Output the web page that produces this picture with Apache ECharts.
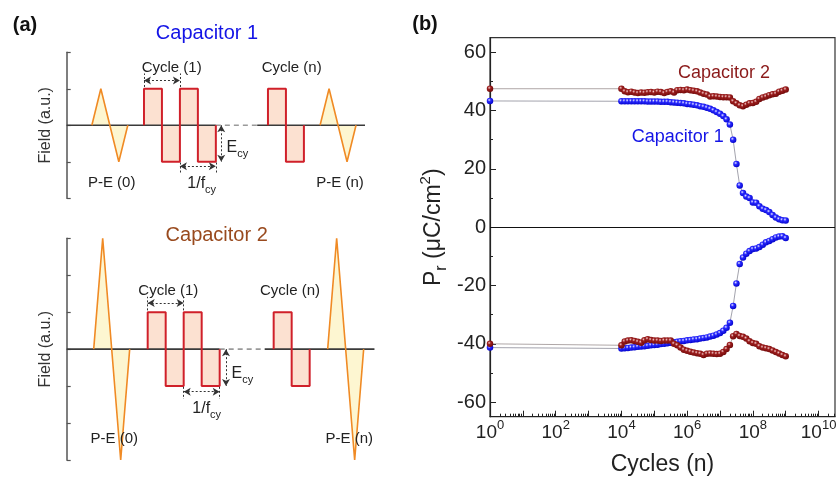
<!DOCTYPE html>
<html><head><meta charset="utf-8">
<script src="https://cdn.jsdelivr.net/npm/echarts@6/dist/echarts.min.js"></script>
<style>html,body{margin:0;padding:0;background:#fff}#c{width:836px;height:479px}</style>
</head><body><div id="c"></div><script>
// ================= Panel (b) data =================
const cycles = [1,
  1e4, 1.26e4, 1.58e4, 2e4, 2.51e4, 3.16e4, 3.98e4, 5.01e4, 6.31e4, 7.94e4,
  1e5, 1.26e5, 1.58e5, 2e5, 2.51e5, 3.16e5, 3.98e5, 5.01e5, 6.31e5, 7.94e5,
  1e6, 1.26e6, 1.58e6, 2e6, 2.51e6, 3.16e6, 3.98e6, 5.01e6, 6.31e6, 7.94e6,
  1e7, 1.26e7, 1.58e7, 2e7, 2.51e7, 3.16e7, 3.98e7, 5.01e7, 6.31e7, 7.94e7,
  1e8, 1.26e8, 1.58e8, 2e8, 2.51e8, 3.16e8, 3.98e8, 5.01e8, 6.31e8, 7.94e8,
  1e9];
const cap1Pos = [43.3,
  43.2,43.2,43.2,43.2,43.2,43.2,43.2,43.2,43.1,43.1,
  43.1,43.1,43.0,43.0,43.0,42.9,42.8,42.7,42.6,42.5,
  42.3,42.2,42.0,41.8,41.5,41.3,41.0,40.6,40.1,39.5,
  38.9,38.1,37.0,35.2,30.0,21.7,14.3,11.7,10.5,10.0,
  8.5,8.4,7.2,6.3,5.9,5.2,4.2,3.3,2.7,2.4,2.3];
const cap2Pos = [47.5,
  47.5,46.6,46.3,46.5,46.2,46.0,46.2,46.1,46.3,46.4,
  46.2,46.5,46.4,46.0,46.4,46.6,46.2,47.0,47.1,47.0,
  47.2,47.0,46.8,46.6,46.2,45.8,45.5,44.8,44.9,44.8,
  44.7,44.6,44.6,44.5,43.2,42.5,41.8,41.5,42.0,42.5,
  42.6,43.0,44.0,44.5,44.8,45.3,45.6,45.8,46.5,46.8,47.2];
const cap1Neg = [-41.3,
  -41.6,-41.5,-41.4,-41.3,-41.2,-41.0,-40.9,-40.8,-40.7,-40.5,
  -40.4,-40.3,-40.1,-40.0,-39.8,-39.6,-39.5,-39.3,-39.1,-39.0,
  -38.8,-38.7,-38.5,-38.4,-38.2,-38.0,-37.8,-37.5,-37.2,-36.8,
  -36.3,-35.5,-34.5,-32.8,-27.0,-19.3,-12.6,-10.4,-9.1,-8.2,
  -7.5,-7.3,-6.8,-6.0,-5.2,-4.7,-4.1,-3.5,-3.2,-3.1,-3.7];
const cap2Neg = [-40.0,
  -40.5,-39.2,-38.9,-38.8,-39.0,-39.3,-39.6,-38.8,-38.4,-38.7,
  -38.9,-38.9,-39.0,-38.9,-38.9,-38.9,-40.0,-40.5,-41.3,-42.0,
  -42.4,-42.7,-43.0,-43.2,-43.4,-43.8,-43.4,-43.3,-43.4,-43.5,
  -43.4,-42.8,-41.8,-40.4,-37.4,-36.6,-37.3,-37.6,-38.2,-39.1,
  -39.7,-40.0,-40.8,-41.3,-41.5,-41.8,-42.3,-42.8,-43.3,-43.8,-44.3];
const xDecadeTicks = [0,1,2,3,4,5,6,7,8,9,10];   // exponents of 10
const xLabelExps = [0,2,4,6,8,10];
const yTickValues = [-60,-40,-20,0,20,40,60];
const yMinorTicks = [-50,-30,-10,10,30,50];

// ================= Panel (a) waveforms (time units, field a.u.) =================
const cap1Tri0 = [[1.4,0],[1.9,1],[2.9,-1],[3.4,0]];
const cap1Sq1 = [[4.3,0],[4.3,1],[5.3,1],[5.3,-1],[6.3,-1],[6.3,1],[7.3,1],[7.3,-1],[8.3,-1],[8.3,0]];
const cap1SqN = [[11.2,0],[11.2,1],[12.2,1],[12.2,-1],[13.2,-1],[13.2,0]];
const cap1TriN = [[14.1,0],[14.6,1],[15.6,-1],[16.1,0]];
const cap1Base = [[[0,0],[8.3,0]],[[10.6,0],[16.6,0]]];
const cap1Dash = [[8.3,0],[10.6,0]];

const cap2Tri0 = [[1.5,0],[2,3],[3,-3],[3.5,0]];
const cap2Sq1 = [[4.5,0],[4.5,1],[5.5,1],[5.5,-1],[6.5,-1],[6.5,1],[7.5,1],[7.5,-1],[8.5,-1],[8.5,0]];
const cap2SqN = [[11.5,0],[11.5,1],[12.5,1],[12.5,-1],[13.5,-1],[13.5,0]];
const cap2TriN = [[14.5,0],[15,3],[16,-3],[16.5,0]];
const cap2Base = [[[0,0],[8.5,0]],[[11,0],[17.1,0]]];
const cap2Dash = [[8.5,0],[11,0]];

// ================= build =================
const FONT = 'Liberation Sans, Arial, sans-serif';
const chart = echarts.init(document.getElementById('c'), null, {renderer:'canvas'});

const SQ_LINE = '#d0202a', SQ_FILL = 'rgba(244,160,110,0.45)';
const TR_LINE = '#f08a24', TR_FILL = 'rgba(250,228,110,0.45)';

function baseSeries(gi, data, dashed){
  return {type:'line', xAxisIndex:gi, yAxisIndex:gi, data:data, symbol:'none', silent:true, animation:false,
    lineStyle:{color: dashed?'#9a9a9a':'#3a3a3a', width:1.6, type: dashed?[5,4]:'solid'}};
}
function waveSeries(gi, data, line, fill, w){
  return {type:'line', xAxisIndex:gi, yAxisIndex:gi, data:data, symbol:'none', silent:true, animation:false,
    lineStyle:{color:line, width:w}, areaStyle:{color:fill, origin:0}};
}
function annotSeries(gi, arrows, plain){
  const dot = {color:'#333', width:1, type:[2,2]};
  return [
    {type:'line', xAxisIndex:gi, yAxisIndex:gi, data:[], silent:true, animation:false,
      markLine:{silent:true, symbol:['arrow','arrow'], symbolSize:[6,7], label:{show:false}, lineStyle:dot, animation:false,
        data: arrows.map(a=>[{coord:a[0]},{coord:a[1]}])}},
    {type:'line', xAxisIndex:gi, yAxisIndex:gi, data:[], silent:true, animation:false,
      markLine:{silent:true, symbol:['none','none'], label:{show:false}, lineStyle:dot, animation:false,
        data: plain.map(a=>[{coord:a[0]},{coord:a[1]}])}}
  ];
}

const series = [];
// panel a1
cap1Base.forEach(s=>series.push(baseSeries(0,s,false)));
series.push(baseSeries(0,cap1Dash,true));
series.push(waveSeries(0,cap1Tri0,TR_LINE,TR_FILL,1.6));
series.push(waveSeries(0,cap1Sq1,SQ_LINE,SQ_FILL,2));
series.push(waveSeries(0,cap1SqN,SQ_LINE,SQ_FILL,2));
series.push(waveSeries(0,cap1TriN,TR_LINE,TR_FILL,1.6));
series.push(...annotSeries(0,
  [[[4.3,1.23],[6.3,1.23]], [[6.3,-1.12],[8.3,-1.12]], [[8.6,0],[8.6,-1]]],
  [[[4.3,1.05],[4.3,1.42]], [[6.3,1.05],[6.3,1.42]], [[6.3,-1.02],[6.3,-1.32]], [[8.3,-1.02],[8.3,-1.32]]]));
// panel a2
cap2Base.forEach(s=>series.push(baseSeries(1,s,false)));
series.push(baseSeries(1,cap2Dash,true));
series.push(waveSeries(1,cap2Tri0,TR_LINE,TR_FILL,1.6));
series.push(waveSeries(1,cap2Sq1,SQ_LINE,SQ_FILL,2));
series.push(waveSeries(1,cap2SqN,SQ_LINE,SQ_FILL,2));
series.push(waveSeries(1,cap2TriN,TR_LINE,TR_FILL,1.6));
series.push(...annotSeries(1,
  [[[4.5,1.25],[6.5,1.25]], [[6.5,-1.15],[8.5,-1.15]], [[8.85,0],[8.85,-1]]],
  [[[4.5,1.05],[4.5,1.42]], [[6.5,1.05],[6.5,1.42]], [[6.5,-1.02],[6.5,-1.35]], [[8.5,-1.02],[8.5,-1.35]]]));

// panel b
function ball(c1, c2, c3){
  return {type:'radial', x:0.38, y:0.35, r:0.7, colorStops:[{offset:0,color:c1},{offset:0.35,color:c2},{offset:1,color:c3}]};
}
const blueBall = ball('#e8e8ff','#2a2aff','#0000c8');
const redBall = ball('#f2cccc','#9c1e1e','#6e0808');
function pSeries(vals, ball, lineColor){
  return {type:'line', xAxisIndex:2, yAxisIndex:2, data: cycles.map((c,i)=>[Math.log10(c), vals[i]]),
    symbol:'circle', symbolSize:6.5, showSymbol:true, silent:true, animation:false,
    itemStyle:{color:ball}, lineStyle:{color:lineColor, width:0.8}};
}
series.push({type:'line', xAxisIndex:2, yAxisIndex:2, data:[], silent:true, animation:false,
  markLine:{silent:true, symbol:['none','none'], label:{show:false}, animation:false,
    lineStyle:{color:'#111', width:1.2, type:'solid'}, data:[{yAxis:0}]}});
series.push(pSeries(cap1Pos, blueBall, '#8c8c98'));
series.push(pSeries(cap1Neg, blueBall, '#8c8c98'));
series.push(pSeries(cap2Pos, redBall, '#9a9090'));
series.push(pSeries(cap2Neg, redBall, '#9a9090'));

// minor x tick positions (axis decoration)
const xMinorTicks = [];
for (let d=0; d<=10; d++) for (let k=2; k<=9; k++){ const v=d+Math.log10(k); if (v<10.5) xMinorTicks.push(v); }

const aAxisY = (gi,min,max)=>({type:'value', gridIndex:gi, min:min, max:max, interval:1,
  axisLine:{show:true, onZero:false, lineStyle:{color:'#555', width:1.5}},
  axisTick:{show:true, inside:true, length:4, lineStyle:{color:'#555', width:1.2}},
  axisLabel:{show:false}, splitLine:{show:false},
  name:'Field (a.u.)', nameLocation:'middle', nameGap:13, nameRotate:90,
  nameTextStyle:{fontFamily:FONT, fontSize:16, color:'#333'}});
const aAxisX = (gi,max)=>({type:'value', gridIndex:gi, min:0, max:max, show:false, splitLine:{show:false}});

const supRich = {
  b:{fontFamily:FONT, fontSize:19, lineHeight:28, color:'#222'},
  s:{fontFamily:FONT, fontSize:13, lineHeight:13, verticalAlign:'top', color:'#222'}
};

const option = {
  backgroundColor:'#fff',
  animation:false,
  grid:[
    {left:66.7, top:52.3, width:298.3, height:146, outerBoundsMode:'none'},
    {left:66.7, top:238.3, width:308.3, height:221.7, outerBoundsMode:'none'},
    {left:490, top:37.7, width:345, height:379, show:true, borderColor:'#333', borderWidth:1.2, backgroundColor:'transparent', outerBoundsMode:'none'}
  ],
  xAxis:[
    aAxisX(0,16.6), aAxisX(1,17.13),
    {type:'value', gridIndex:2, min:0, max:10.5, position:'bottom',
      axisLine:{show:true, onZero:false, lineStyle:{color:'#222', width:1.2}},
      axisTick:{show:true, inside:true, length:6, customValues:xDecadeTicks, lineStyle:{color:'#222', width:1}},
      axisLabel:{show:true, customValues:xLabelExps, margin:2, rich:supRich,
        formatter:(v)=> (Math.abs(v-Math.round(v))<1e-6 ? '{b|10}{s|'+Math.round(v)+'}' : '')},
      splitLine:{show:false},
      name:'Cycles (n)', nameLocation:'middle', nameGap:36,
      nameTextStyle:{fontFamily:FONT, fontSize:23, color:'#222'}},
    {type:'value', gridIndex:2, min:0, max:10.5, position:'bottom',
      axisLine:{show:false, onZero:false},
      axisTick:{show:true, inside:true, length:3, customValues:xMinorTicks, lineStyle:{color:'#222', width:1}},
      axisLabel:{show:false}, splitLine:{show:false}}
  ],
  yAxis:[
    aAxisY(0,-2,2),
    aAxisY(1,-3,3),
    {type:'value', gridIndex:2, min:-65, max:65, position:'left',
      axisLine:{show:true, onZero:false, lineStyle:{color:'#222', width:1.2}},
      axisTick:{show:true, inside:true, length:6, customValues:yTickValues, lineStyle:{color:'#222', width:1}},
      axisLabel:{show:true, customValues:yTickValues, margin:4, fontFamily:FONT, fontSize:20, color:'#222'},
      splitLine:{show:false},
      name:'{p|P}{r|r}{p| (μC/cm}{u|2}{p|)}', nameLocation:'middle', nameGap:40, nameRotate:90,
      nameTextStyle:{rich:{
        p:{fontFamily:FONT, fontSize:23, lineHeight:32, color:'#222'},
        r:{fontFamily:FONT, fontSize:16, lineHeight:16, verticalAlign:'bottom', color:'#222'},
        u:{fontFamily:FONT, fontSize:15, lineHeight:15, verticalAlign:'top', color:'#222'}
      }}},
    {type:'value', gridIndex:2, min:-65, max:65, position:'left',
      axisLine:{show:false, onZero:false},
      axisTick:{show:true, inside:true, length:3, customValues:yMinorTicks, lineStyle:{color:'#222', width:1}},
      axisLabel:{show:false}, splitLine:{show:false}}
  ],
  series: series,
  graphic: []
};

function txt(x, y, text, size, color, opts){
  opts = opts || {};
  return {type:'text', x:x, y:y, silent:true, z:100,
    style:Object.assign({text:text, fill:color, font:(opts.bold?'bold ':'')+size+'px '+FONT,
      align:opts.align||'center', verticalAlign:'middle'}, opts.rich?{rich:opts.rich}:{})};
}
const subRich = (base)=>({
  m:{fontFamily:FONT, fontSize:base, lineHeight:base+6, fill:'#222'},
  s:{fontFamily:FONT, fontSize:11, lineHeight:11, verticalAlign:'bottom', fill:'#222'}
});
option.graphic = [
  txt(25,25,'(a)',20,'#111',{bold:true}),
  txt(425,24,'(b)',20,'#111',{bold:true}),
  txt(207,33,'Capacitor 1',20,'#1414e6'),
  txt(171.7,68,'Cycle (1)',15,'#222'),
  txt(291.7,68,'Cycle (n)',15,'#222'),
  txt(226.5,148,'{m|E}{s|cy}',16,'#222',{align:'left', rich:subRich(16)}),
  txt(201.7,184,'{m|1/f}{s|cy}',16,'#222',{rich:subRich(16)}),
  txt(111.7,183,'P-E (0)',15,'#222'),
  txt(340,183,'P-E (n)',15,'#222'),
  txt(216.7,235,'Capacitor 2',20,'#994a1e'),
  txt(168.3,290.7,'Cycle (1)',15,'#222'),
  txt(290,290.7,'Cycle (n)',15,'#222'),
  txt(231.5,374,'{m|E}{s|cy}',16,'#222',{align:'left', rich:subRich(16)}),
  txt(206.7,409,'{m|1/f}{s|cy}',16,'#222',{rich:subRich(16)}),
  txt(114.3,439.3,'P-E (0)',15,'#222'),
  txt(349.3,439.3,'P-E (n)',15,'#222'),
  txt(678,73.3,'Capacitor 2',18,'#8b1a1a',{align:'left'}),
  txt(631.7,136.7,'Capacitor 1',18,'#1414e6',{align:'left'})
];
chart.setOption(option);
</script></body></html>
